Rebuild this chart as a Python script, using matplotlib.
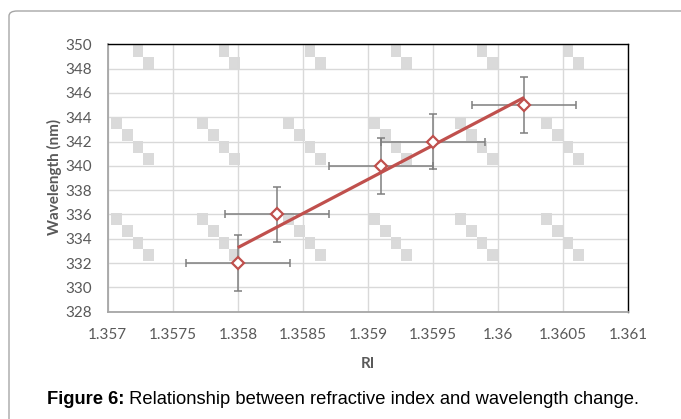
import numpy as np
import matplotlib
matplotlib.use("Agg")
import matplotlib.pyplot as plt
from matplotlib.patches import Rectangle, FancyBboxPatch

# data
ri = [1.3580, 1.3583, 1.3591, 1.3595, 1.3602]
wavelength = [332, 336, 340, 342, 345]
ri_err = 0.0004
wl_err = 2.3

x_ticks = [1.357, 1.3575, 1.358, 1.3585, 1.359, 1.3595, 1.36, 1.3605, 1.361]
x_labels = ['1.357', '1.3575', '1.358', '1.3585', '1.359', '1.3595', '1.36', '1.3605', '1.361']
y_ticks = list(range(328, 351, 2))

W, H = 681, 419
fig = plt.figure(figsize=(W / 100, H / 100), dpi=100)

# outer chart frame (only top/left edges visible in the crop)
frame = FancyBboxPatch((9 / W, -30 / H), 720 / W, (H - 11 + 30) / H,
                       boxstyle="round,pad=0,rounding_size=0.012",
                       transform=fig.transFigure, fill=False,
                       edgecolor='#a6a6a6', linewidth=1.0)
fig.patches.append(frame)

left, right, top, bottom = 107.7, 628.3, 44.3, 311.7
ax = fig.add_axes([left / W, 1 - bottom / H, (right - left) / W, (bottom - top) / H])
ax_w, ax_h = right - left, bottom - top

# background pattern fill (diagonal staircase of light squares)
cw, ch = 10.75, 12.0
x0, y0 = 3.3, 73.0 - 96.0
for gx in range(-1, 8):
    for gy in range(-1, 4):
        for k in range(4):
            px = x0 + gx * 8 * cw + k * cw
            py = y0 + gy * 8 * ch + k * ch
            if px < -1 or py < -1 or px + cw > ax_w + 1 or py + ch > ax_h + 1:
                continue
            r = Rectangle((px / ax_w, 1 - (py + ch) / ax_h), cw / ax_w, ch / ax_h,
                          transform=ax.transAxes, facecolor='#dadada',
                          edgecolor='none', zorder=0.2)
            ax.add_patch(r)

ax.set_xlim(1.357, 1.361)
ax.set_ylim(328, 350)
ax.set_xticks(x_ticks)
ax.set_xticklabels(x_labels)
ax.set_yticks(y_ticks)
ax.set_axisbelow(True)
ax.grid(True, color='#d9d9d9', linewidth=1.0)
ax.tick_params(length=0, labelsize=11, labelcolor='#595959')
ax.tick_params(axis='y', pad=11)
ax.tick_params(axis='x', pad=12)
for lab in ax.get_xticklabels() + ax.get_yticklabels():
    lab.set_fontfamily('Lato')

for s in ['top', 'right']:
    ax.spines[s].set_color('black')
    ax.spines[s].set_linewidth(1.0)
for s in ['left', 'bottom']:
    ax.spines[s].set_color('#a6a6a6')
    ax.spines[s].set_linewidth(1.3)

ax.errorbar(ri, wavelength, xerr=ri_err, yerr=wl_err, fmt='none',
            ecolor='#7f7f7f', elinewidth=1.1, capsize=3, capthick=1.1, zorder=3)

# linear trendline
k, b = np.polyfit(ri, wavelength, 1)
xt = np.array([min(ri), max(ri)])
ax.plot(xt, k * xt + b, color='#c0504d', linewidth=2.3, zorder=4,
        solid_capstyle='butt')

ax.plot(ri, wavelength, linestyle='none', marker='D', markersize=6.5,
        markerfacecolor='white', markeredgecolor='#c0504d',
        markeredgewidth=1.6, zorder=5)

fig.text(54.5 / W, 1 - 177 / H, 'Wavelength (nm)', rotation=90, ha='center',
         va='center', fontsize=11, fontweight='bold', color='#595959', family='Lato')
fig.text(368 / W, 1 - 363.5 / H, 'RI', ha='center', va='center',
         fontsize=11, fontweight='bold', color='#595959', family='Lato')

# caption
cap_y = 1 - 404 / H
t1 = fig.text(47 / W, cap_y, 'Figure 6:', fontsize=13.2, fontweight='bold',
              family='Liberation Sans', va='baseline', color='black')
fig.canvas.draw()
bb = t1.get_window_extent(fig.canvas.get_renderer())
fig.text(bb.x1 / W, cap_y, ' Relationship between refractive index and wavelength change.',
         fontsize=13.2, family='Liberation Sans', va='baseline', color='black')

fig.savefig('out.png', dpi=100)
